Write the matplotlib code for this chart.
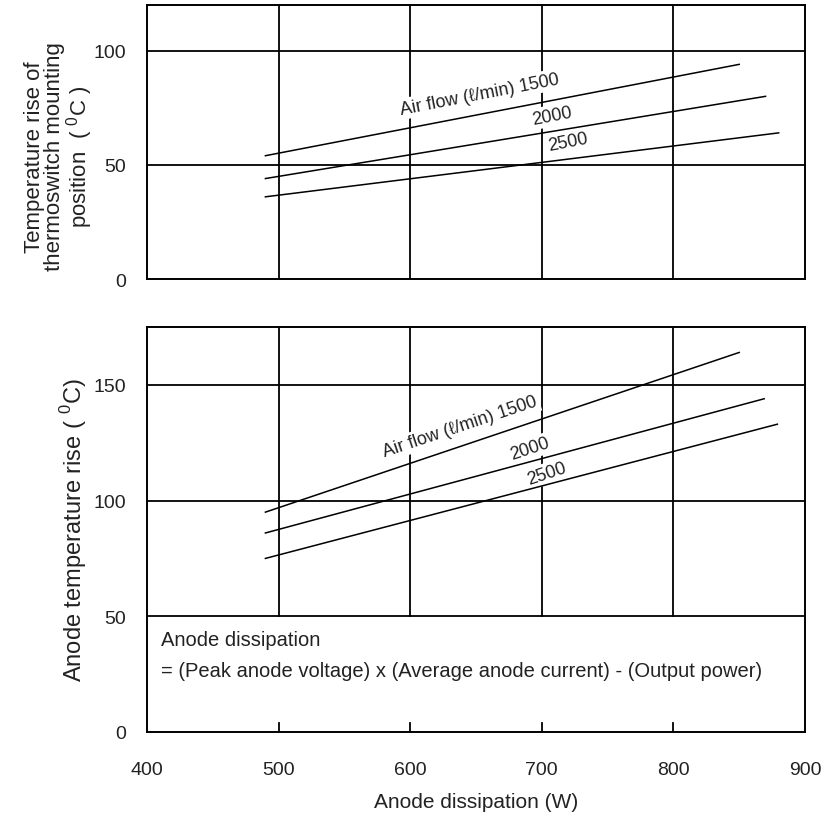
import numpy as np
import matplotlib
matplotlib.use("Agg")
import matplotlib.pyplot as plt

plt.rcParams['font.family'] = ['Liberation Sans Narrow', 'Liberation Sans', 'DejaVu Sans']
plt.rcParams['mathtext.fontset'] = 'custom'
plt.rcParams['mathtext.rm'] = 'Liberation Sans'

# airflow series (l/min), each line given by its two end points
airflow = ["1500", "2000", "2500"]
x_start = [490, 490, 490]
top_x_end = [850, 870, 880]
top_y_start = [54, 44, 36]
top_y_end = [94, 80, 64]
bot_x_end = [850, 869, 879]
bot_y_start = [95, 86, 75]
bot_y_end = [164, 144, 133]

xticks = [400, 500, 600, 700, 800, 900]
top_yticks = [0, 50, 100]
bot_yticks = [0, 50, 100, 150]

txt = '#222222'

fig = plt.figure(figsize=(8.21, 8.20), dpi=100)
ax1 = fig.add_axes([0.179, 0.6585, 0.8015, 0.3342])
ax2 = fig.add_axes([0.179, 0.1061, 0.8015, 0.4939])

for ax in (ax1, ax2):
    ax.set_xlim(400, 900)
    for s in ax.spines.values():
        s.set_linewidth(1.4)
        s.set_color('black')
    ax.tick_params(length=0, labelsize=14, colors=txt, pad=15)

# top chart
ax1.set_ylim(0, 120)
ax1.set_yticks(top_yticks)
ax1.set_xticks(xticks)
ax1.set_xticklabels([])
for xv in xticks[1:-1]:
    ax1.axvline(xv, color='black', lw=1.3, zorder=1)
for yv in top_yticks[1:]:
    ax1.axhline(yv, color='black', lw=1.3, zorder=1)
for i in range(3):
    ax1.plot([x_start[i], top_x_end[i]], [top_y_start[i], top_y_end[i]],
             color='black', lw=1.1, zorder=3)
bb = dict(facecolor='white', edgecolor='none', pad=1.5)
ax1.text(653, 81, "Air flow (ℓ/min) 1500", rotation=11, ha='center', va='center',
         fontsize=13, color=txt, bbox=bb, zorder=2)
ax1.text(708, 71.5, "2000", rotation=11, ha='center', va='center',
         fontsize=13, color=txt, bbox=bb, zorder=2)
ax1.text(720, 60.3, "2500", rotation=11, ha='center', va='center',
         fontsize=13, color=txt, bbox=bb, zorder=2)
ax1.set_ylabel("Temperature rise of\nthermoswitch mounting\nposition  ( $^{0}$C )",
               fontsize=16, color=txt, linespacing=0.95)
ax1.yaxis.set_label_coords(-0.079, 0.45)

# bottom chart
ax2.set_ylim(0, 175)
ax2.set_yticks(bot_yticks)
ax2.set_xticks(xticks)
ax2.tick_params(axis='x', pad=21)
for xv in xticks[1:-1]:
    ax2.axvline(xv, ymin=50 / 175, ymax=1, color='black', lw=1.3, zorder=1)
    ax2.axvline(xv, ymin=0, ymax=0.022, color='black', lw=1.3, zorder=1)
for yv in bot_yticks[1:]:
    ax2.axhline(yv, color='black', lw=1.3, zorder=1)
for i in range(3):
    ax2.plot([x_start[i], bot_x_end[i]], [bot_y_start[i], bot_y_end[i]],
             color='black', lw=1.1, zorder=3)
ax2.text(638, 132, "Air flow (ℓ/min) 1500", rotation=18.5, ha='center', va='center',
         fontsize=13, color=txt, bbox=bb, zorder=2)
ax2.text(691, 122.5, "2000", rotation=18.5, ha='center', va='center',
         fontsize=13, color=txt, bbox=bb, zorder=2)
ax2.text(704, 111.7, "2500", rotation=18.5, ha='center', va='center',
         fontsize=13, color=txt, bbox=bb, zorder=2)
ax2.text(0.022, 40 / 175, "Anode dissipation", transform=ax2.transAxes,
         ha='left', va='center', fontsize=14.5, color=txt)
ax2.text(0.022, 26.5 / 175,
         "= (Peak anode voltage) x (Average anode current) - (Output power)",
         transform=ax2.transAxes, ha='left', va='center', fontsize=14.5, color=txt)
ax2.set_ylabel("Anode temperature rise ( $^{0}$C)", fontsize=17, color=txt)
ax2.yaxis.set_label_coords(-0.088, 0.5)
ax2.set_xlabel("Anode dissipation (W)", fontsize=15, color=txt, labelpad=10)

fig.savefig("out.png", dpi=100)
